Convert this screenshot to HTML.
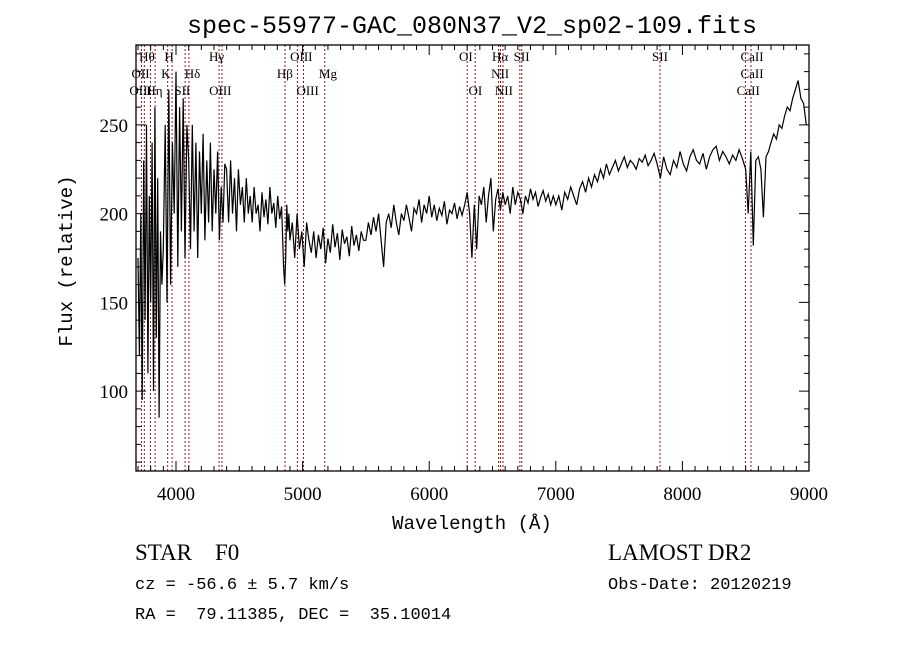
<!DOCTYPE html>
<html><head><meta charset="utf-8"><style>
body{margin:0;background:#fff;}
svg{display:block;}
.t{font-family:"Liberation Mono",monospace;fill:#000;}
.s{font-family:"Liberation Serif",serif;fill:#000;}
</style></head><body>
<svg id="chart" width="900" height="649" viewBox="0 0 900 649" xmlns="http://www.w3.org/2000/svg">
<rect width="900" height="649" fill="#fff"/>
<text class="t" x="472" y="33" font-size="25" text-anchor="middle">spec-55977-GAC_080N37_V2_sp02-109.fits</text>
<g id="lines"></g>
<g id="spec"></g>
<g id="axes"></g>
<text class="t" x="472" y="529" font-size="19" text-anchor="middle">Wavelength (Å)</text>
<text class="t" x="72" y="261" font-size="19" text-anchor="middle" transform="rotate(-90 72 261)">Flux (relative)</text>
<text class="s" x="135" y="560" font-size="23" xml:space="preserve">STAR    F0</text>
<text class="s" x="608" y="560" font-size="23">LAMOST DR2</text>
<text class="t" x="135" y="589" font-size="17">cz = -56.6 ± 5.7 km/s</text>
<text class="t" x="608" y="589" font-size="17">Obs-Date: 20120219</text>
<text class="t" x="135" y="619" font-size="17" xml:space="preserve">RA =  79.11385, DEC =  35.10014</text>
</svg>
<script>
const xMin=3684, xMax=9000, yMin=55, yMax=295;
const L=136,R=809,T=45,B=471;
const xTicks=[4000,5000,6000,7000,8000,9000];
const yTicks=[100,150,200,250];
const segStarts=[3700,3900,4100,4400,4850,4900,5500,6300,6600,7000,7800,8500,8700];
const segEnds=[3900,4100,4400,4850,4900,5500,6300,6600,7000,7800,8500,8700,9000];
const segFlux=[
[175,120,200,95,230,140,250,110,210,150,240,100,260,130,220,85,190,160],
[180,250,150,270,160,240,200,280,170,260,190,265,175,250],
[230,180,250,190,240,175,235,200,245,185,230,195,240,190,225,200,235,185,215,195,228],
[225,195,230,200,220,190,225,205,215,195,220,200,210,195,215,200,205,190,212,198,208,194,215,200,206,192,210,197,204],
[170,160,175,205,190,200],
[185,195,175,200,180,190,170,195,185,178,190,175,188,180,192,172,186,178,194,181,189,174,191,183,187,176,193,182,188,179,190,185],
[185,195,188,198,190,200,185,170,195,200,192,205,195,188,200,196,205,198,190,203,200,208,195,205,200,210,198,205,196,203,199,207,194,202,200,206,197,204,199,205],
[212,200,175,205,180,210,205,215,195,210,220,190,208,214,202,212],
[205,210,200,215,205,212,208,200,210,206,214,208,212,204,209,213,207,211,205,210],
[205,210,202,212,208,215,210,205,214,218,212,220,215,222,218,225,220,228,222,226,230,224,228,232,226,230,228,225,231,229,233,227,230,234],
[228,220,232,225,222,230,226,235,228,224,232,236,230,228,234,225,232,236,238,230,235,232,228,233,230,236,231],
[225,200,235,182,230,232,225,198,232,235],
[240,245,242,250,248,255,260,258,265,270,275,265,262,250]];
const lineWaves=[3727,3750,3798,3835,3934,3969,4072,4102,4340,4363,4861,4959,5007,5175,6300,6363,6548,6563,6583,6716,6731,7823,8498,8542];
const labelText=["Hθ","H","Hγ","OIII","OI","Hα","SII","SII","CaII","OII","K","Hδ","Hβ","Mg","NII","CaII","OIII","Hη","SII","OIII","OIII","OI","NII","CaII"];
const labelWave=[3770,3945,4320,4990,6290,6560,6730,7823,8550,3720,3920,4130,4860,5200,6560,8550,3720,3830,4050,4350,5040,6365,6590,8520];
const labelRow=[0,0,0,0,0,0,0,0,0,1,1,1,1,1,1,1,2,2,2,2,2,2,2,2];
const ns="http://www.w3.org/2000/svg";
const xs=v=>L+(v-xMin)/(xMax-xMin)*(R-L);
const ys=v=>B-(v-yMin)/(yMax-yMin)*(B-T);
function mk(tag,attrs,parent){const e=document.createElementNS(ns,tag);for(const k in attrs)e.setAttribute(k,attrs[k]);parent.appendChild(e);return e;}
const lg=document.getElementById('lines');
lineWaves.forEach(w=>{const l=mk('line',{x1:xs(w),x2:xs(w),y1:T,y2:B,stroke:'#8b1a1a','stroke-width':1,'stroke-dasharray':'2,2'},lg);

});
labelText.forEach((s,i)=>{const t=mk('text',{x:xs(labelWave[i]),y:61+labelRow[i]*17,'font-size':13,'text-anchor':'middle',class:'s'},lg);t.textContent=s;

});
const sg=document.getElementById('spec');
let pts=[];
segFlux.forEach((arr,i)=>{const n=arr.length;arr.forEach((f,j)=>{const w=segStarts[i]+(segEnds[i]-segStarts[i])*j/n;pts.push(xs(w).toFixed(1)+','+ys(f).toFixed(1));});});
const pl=mk('polyline',{points:pts.join(' '),fill:'none',stroke:'#000','stroke-width':1.2},sg);


const ax=document.getElementById('axes');
const fr=mk('rect',{x:L,y:T,width:R-L,height:B-T,fill:'none',stroke:'#000','stroke-width':1.3},ax);


for(let w=3700;w<=9000;w+=100){const maj=w%1000===0;const len=maj?10:5;
mk('line',{x1:xs(w),x2:xs(w),y1:B,y2:B-len,stroke:'#000'},ax);mk('line',{x1:xs(w),x2:xs(w),y1:T,y2:T+len,stroke:'#000'},ax);}
for(let v=60;v<=290;v+=10){const maj=v%50===0;const len=maj?10:5;
mk('line',{x1:L,x2:L+len,y1:ys(v),y2:ys(v),stroke:'#000'},ax);mk('line',{x1:R,x2:R-len,y1:ys(v),y2:ys(v),stroke:'#000'},ax);}
xTicks.forEach(v=>{const t=mk('text',{x:xs(v),y:B+29,'font-size':19,'text-anchor':'middle',class:'s'},ax);t.textContent=v;

});
yTicks.forEach(v=>{const t=mk('text',{x:L-8,y:ys(v)+7,'font-size':19,'text-anchor':'end',class:'s'},ax);t.textContent=v;

});
</script>
</body></html>
